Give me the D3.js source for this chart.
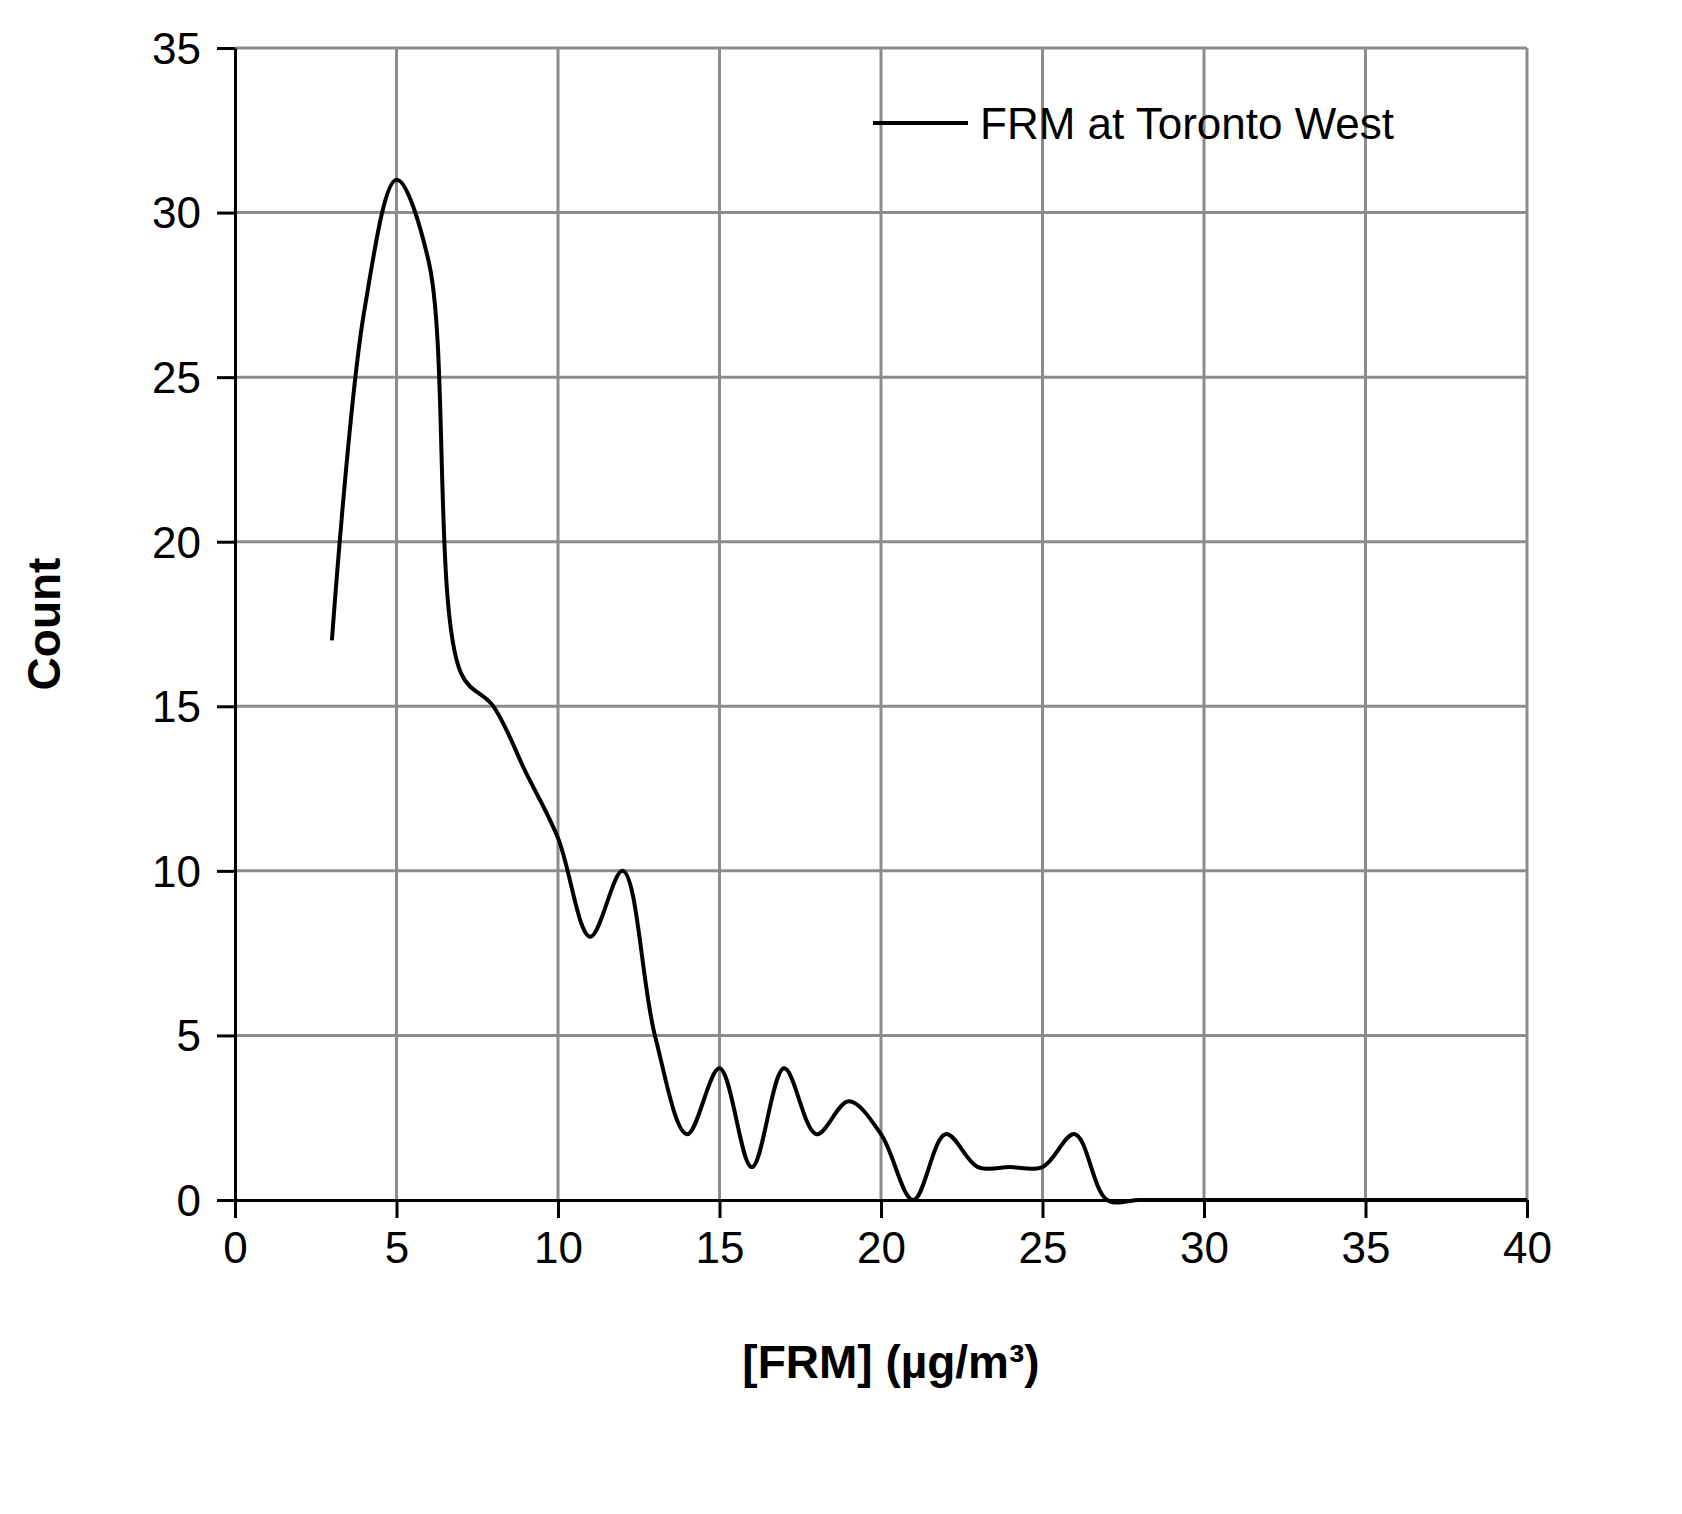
<!DOCTYPE html>
<html><head><meta charset="utf-8">
<script src="https://cdn.jsdelivr.net/npm/d3@7"></script>
<style>body{margin:0;background:#fff}text{font-family:"Liberation Sans",Arial,sans-serif}</style>
</head><body><svg id="c" width="1682" height="1514"></svg>
<script>
var concentrations = [3,4,5,6,7,8,9,10,11,12,13,14,15,16,17,18,19,20,21,22,23,24,25,26,27,28,29,30,31,32,33,34,35,36,37,38,39,40];
var counts = [17,27,31,28.5,16,15,13,11,8,10,5,2,4,1,4,2,3,2,0,2,1,1,1,2,0,0,0,0,0,0,0,0,0,0,0,0,0,0];
var xTicks = [0,5,10,15,20,25,30,35,40];
var yTicks = [0,5,10,15,20,25,30,35];

(function(){
var svg = d3.select('#c');
var pLeft = 235, pRight = 1527, pTop = 48, pBottom = 1200;
var x = d3.scaleLinear().domain([0,40]).range([pLeft,pRight]);
var y = d3.scaleLinear().domain([0,35]).range([pBottom,pTop]);

var grid = svg.append('g').attr('stroke','#8c8c8c').attr('stroke-width',3);
xTicks.slice(1).forEach(function(t){
  grid.append('line').attr('x1',x(t)).attr('x2',x(t)).attr('y1',pTop).attr('y2',pBottom);
});
yTicks.slice(1).forEach(function(t){
  grid.append('line').attr('x1',pLeft).attr('x2',pRight).attr('y1',y(t)).attr('y2',y(t));
});

var xAxis = svg.append('g').attr('transform','translate(0,'+pBottom+')')
  .call(d3.axisBottom(x).tickValues(xTicks).tickSize(18).tickSizeOuter(0).tickPadding(14));
var yAxis = svg.append('g').attr('transform','translate('+pLeft+',0)')
  .call(d3.axisLeft(y).tickValues(yTicks).tickSize(18).tickSizeOuter(0).tickPadding(16));
[xAxis,yAxis].forEach(function(a){
  a.selectAll('path,line').attr('stroke','#000').attr('stroke-width',3);
  a.selectAll('text').attr('font-size',44).attr('fill','#000').attr('font-family','"Liberation Sans",Arial,sans-serif');
});
yAxis.selectAll('text').attr('dy','0.35em');

var line = d3.line().x(function(d,i){return x(concentrations[i]);}).y(function(d){return y(d);})
  .curve(d3.curveCatmullRom.alpha(0.5));
svg.append('path').datum(counts).attr('d',line).attr('fill','none').attr('stroke','#000').attr('stroke-width',4);

svg.append('text').attr('x',(pLeft+pRight)/2+10).attr('y',1378).attr('text-anchor','middle')
  .attr('font-size',46).attr('font-weight','bold').text('[FRM] (µg/m³)');
svg.append('text').attr('transform','translate(60,'+((pTop+pBottom)/2)+') rotate(-90)')
  .attr('text-anchor','middle').attr('font-size',46).attr('font-weight','bold').text('Count');

svg.append('line').attr('x1',873).attr('x2',968).attr('y1',123).attr('y2',123).attr('stroke','#000').attr('stroke-width',4);
svg.append('text').attr('x',980).attr('y',139).attr('font-size',44).text('FRM at Toronto West');
})();
</script></body></html>
